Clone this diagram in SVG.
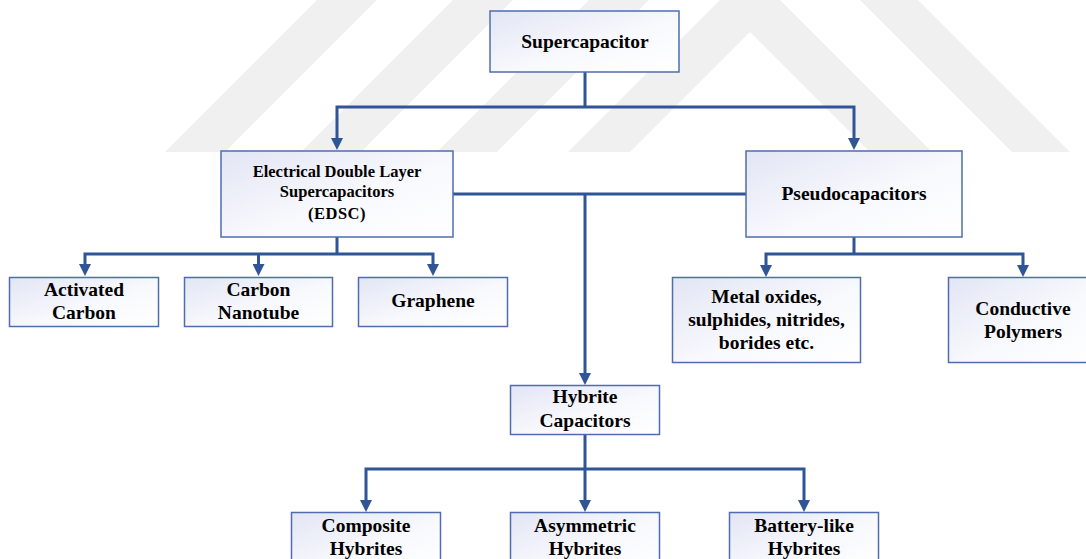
<svg xmlns="http://www.w3.org/2000/svg" width="1086" height="559" viewBox="0 0 1086 559">
<defs>
  <linearGradient id="nodeFill" x1="0" y1="0" x2="1" y2="1">
    <stop offset="0" stop-color="#e2e5f4"/>
    <stop offset="0.55" stop-color="#f8f9fd"/>
    <stop offset="1" stop-color="#ffffff"/>
  </linearGradient>
  <marker id="arrow" markerUnits="userSpaceOnUse" markerWidth="12" markerHeight="12" viewBox="0 0 12 12" refX="2" refY="6" orient="auto">
    <path d="M0,0 L12,6 L0,12 z" fill="#2f5597"/>
  </marker>
  <style>
    .node rect { fill: url(#nodeFill); stroke: #4e6db1; stroke-width: 1.5; }
    .node text { font-family: "Liberation Serif", "Times New Roman", serif; font-weight: bold; font-size: 19.5px; fill: #000; text-anchor: middle; }
    .node text.small { font-size: 16.5px; }
    .wm { fill: #f0f0f0; }
    .conn path { fill: none; stroke: #2f5597; stroke-width: 3; stroke-linejoin: miter; }
    .conn path.arr { marker-end: url(#arrow); }
  </style>
</defs>
<rect x="0" y="0" width="1086" height="559" fill="#ffffff"/>
<g id="watermark">
  <polygon class="wm" points="317,0 377,0 225,152 165,152"/>
  <polygon class="wm" points="453,0 513,0 361,152 301,152"/>
  <polygon class="wm" points="589,0 649,0 497,152 437,152"/>
  <polygon class="wm" points="568,152 750,-30 932,152 870,152 750,32 630,152"/>
  <polygon class="wm" points="860,0 918,0 1070,152 1012,152"/>
</g>
<g id="connectors" class="conn">
  <path d="M585,72 V107"/>
  <path class="arr" d="M585,107 H337 V140"/>
  <path class="arr" d="M585,107 H854 V140"/>
  <path d="M453,194 H746"/>
  <path class="arr" d="M585,194 V375"/>
  <path d="M337,237 V254"/>
  <path class="arr" d="M337,254 H85 V266"/>
  <path class="arr" d="M258.5,254 V266"/>
  <path class="arr" d="M337,254 H433 V266"/>
  <path d="M854,237 V254"/>
  <path class="arr" d="M854,254 H766 V267"/>
  <path class="arr" d="M854,254 H1023 V267"/>
  <path d="M585,434 V469"/>
  <path class="arr" d="M585,469 H366 V502"/>
  <path class="arr" d="M585,469 V502"/>
  <path class="arr" d="M585,469 H804 V502"/>
</g>
<g id="supercapacitor" class="node">
  <rect x="490" y="11" width="189" height="61"/>
  <text x="585" y="48">Supercapacitor</text>
</g>
<g id="edsc" class="node">
  <rect x="221" y="151" width="232" height="86"/>
  <text class="small" x="337" y="177">Electrical Double Layer</text>
  <text class="small" x="337" y="197">Supercapacitors</text>
  <text class="small" x="337" y="219" letter-spacing="0.5">(EDSC)</text>
</g>
<g id="pseudocapacitors" class="node">
  <rect x="746" y="151" width="216" height="86"/>
  <text x="854" y="200">Pseudocapacitors</text>
</g>
<g id="activated-carbon" class="node">
  <rect x="9.5" y="277.5" width="149" height="49"/>
  <text x="84" y="296">Activated</text>
  <text x="84" y="319">Carbon</text>
</g>
<g id="carbon-nanotube" class="node">
  <rect x="184.5" y="277.5" width="148" height="49"/>
  <text x="258.5" y="296">Carbon</text>
  <text x="258.5" y="319">Nanotube</text>
</g>
<g id="graphene" class="node">
  <rect x="358.5" y="277.5" width="149" height="49"/>
  <text x="433" y="307">Graphene</text>
</g>
<g id="metal-oxides" class="node">
  <rect x="672.5" y="277.5" width="188" height="85"/>
  <text x="766.5" y="303">Metal oxides,</text>
  <text x="766.5" y="326">sulphides, nitrides,</text>
  <text x="766.5" y="349">borides etc.</text>
</g>
<g id="conductive-polymers" class="node">
  <rect x="948.5" y="277.5" width="150" height="85"/>
  <text x="1023" y="315">Conductive</text>
  <text x="1023" y="338">Polymers</text>
</g>
<g id="hybrite-capacitors" class="node">
  <rect x="510.5" y="385.5" width="149" height="49"/>
  <text x="585" y="403">Hybrite</text>
  <text x="585" y="427">Capacitors</text>
</g>
<g id="composite-hybrites" class="node">
  <rect x="291.5" y="512.5" width="149" height="60"/>
  <text x="366" y="532">Composite</text>
  <text x="366" y="555">Hybrites</text>
</g>
<g id="asymmetric-hybrites" class="node">
  <rect x="510.5" y="512.5" width="149" height="60"/>
  <text x="585" y="532">Asymmetric</text>
  <text x="585" y="555">Hybrites</text>
</g>
<g id="battery-like-hybrites" class="node">
  <rect x="729.5" y="512.5" width="149" height="60"/>
  <text x="804" y="532">Battery-like</text>
  <text x="804" y="555">Hybrites</text>
</g>
</svg>
